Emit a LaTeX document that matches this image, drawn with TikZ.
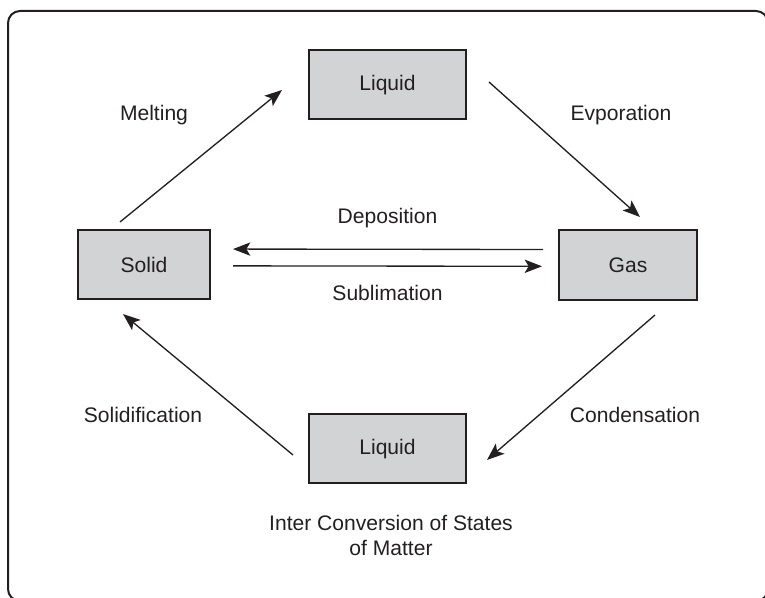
\documentclass[tikz,border=0pt]{standalone}
\usepackage{fontspec}
\setmainfont{Liberation Sans}
\usetikzlibrary{arrows.meta,positioning,calc}
\definecolor{boxgray}{RGB}{210,211,213}
\definecolor{ink}{RGB}{35,31,32}

\begin{document}
\begin{tikzpicture}[
  x=0.75pt, y=-0.75pt,
  >={Stealth[length=13pt,width=10pt,inset=3pt]},
  phase/.style={draw=ink, line width=1.5pt, fill=boxgray, minimum height=51.75pt,
                font=\fontsize{15.8}{19}\selectfont, text=ink},
  wide/.style={phase, minimum width=118pt},
  narrow/.style={phase, minimum width=99pt},
  lbl/.style={font=\fontsize{15.8}{19}\selectfont, text=ink, align=center},
  flow/.style={->, draw=ink, line width=1pt}
]
  \clip (0,0) rectangle (765,598);
  \useasboundingbox (0,0) rectangle (765,598);
  %% outer frame
  \draw[ink, line width=1.5pt, rounded corners=9pt] (8,11) rectangle (768,601);
  %% phases
  \node[wide]   (liqtop) at (387.5,85)  {Liquid};
  \node[narrow] (solid)  at (144,264.5) {Solid};
  \node[narrow, minimum width=103.5pt, minimum height=52.5pt] (gas) at (628,265) {Gas};
  \node[wide]   (liqbot) at (387.5,449) {Liquid};
  %% arrow ends
  \coordinate (melt-s) at (120,222);
  \coordinate (melt-e) at (282,90);
  \coordinate (evap-s) at (489,82);
  \coordinate (evap-e) at (640,217);
  \coordinate (cond-s) at (655,315);
  \coordinate (cond-e) at (487,460);
  \coordinate (soli-s) at (293,455);
  \coordinate (soli-e) at (123,314);
  %% transitions
  \draw[flow] (melt-s) -- (melt-e);
  \draw[flow] (evap-s) -- (evap-e);
  \draw[flow] (cond-s) -- (cond-e);
  \draw[flow] (soli-s) -- (soli-e);
  \draw[flow, shorten <=11.25pt, shorten >=16.5pt]
    ([yshift=11.6pt]gas.west) -- ([yshift=11.6pt]solid.east);
  \draw[flow, shorten <=16.5pt, shorten >=12pt]
    ([yshift=-1pt]solid.east) -- ([yshift=-1pt]gas.west);
  %% labels
  \node[lbl] (melting) at (154,115) {Melting};
  \node[lbl] (evpo)    at (621,115) {Evporation};
  \node[lbl] (depo)    at (387.5,218) {Deposition};
  \node[lbl] (subl)    at (387.5,293) {Sublimation};
  \node[lbl] (solidif) at (143,415) {Solidification};
  \node[lbl] (conden)  at (635,415) {Condensation};
  \node[lbl, font=\fontsize{15.8}{18.75}\selectfont] (title) at (391,535)
    {Inter Conversion of States\\of Matter};
\end{tikzpicture}
\end{document}
